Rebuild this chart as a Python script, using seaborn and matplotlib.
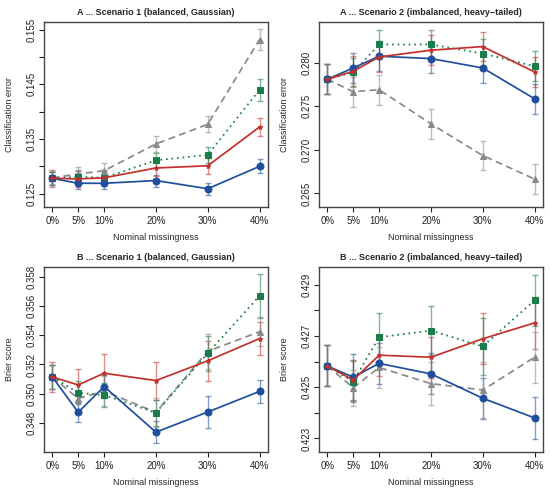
import numpy as np
import pandas as pd
import matplotlib
matplotlib.use("Agg")
import matplotlib.pyplot as plt
import seaborn as sns

sns.set_style("ticks")
plt.rcParams["font.family"] = ["Liberation Sans", "DejaVu Sans"]

# ---------------------------------------------------------
# data
# ---------------------------------------------------------
x = [0, 5, 10, 20, 30, 40]
x_labels = ["0%", "5%", "10%", "20%", "30%", "40%"]
methods = ["blue", "red", "green", "grey"]

# A: classification error, scenario 1
a1_blue = [0.1278, 0.1269, 0.1269, 0.1274, 0.1259, 0.1300]
a1_red = [0.1278, 0.1277, 0.1279, 0.1297, 0.1301, 0.1372]
a1_green = [0.1278, 0.1281, 0.1279, 0.1311, 0.1321, 0.1440]
a1_grey = [0.1279, 0.1286, 0.1292, 0.1341, 0.1377, 0.1532]
a1_blue_err = [0.0012, 0.0011, 0.0011, 0.0011, 0.0011, 0.0013]
a1_red_err = [0.0015, 0.0015, 0.0015, 0.0015, 0.0015, 0.0016]
a1_green_err = [0.0012, 0.0012, 0.0012, 0.0014, 0.0014, 0.0020]
a1_grey_err = [0.0012, 0.0013, 0.0014, 0.0014, 0.0015, 0.0020]

# A: classification error, scenario 2
a2_blue = [0.27812, 0.27942, 0.28077, 0.28050, 0.27942, 0.27588]
a2_red = [0.27812, 0.27904, 0.28069, 0.28146, 0.28188, 0.27896]
a2_green = [0.27812, 0.27892, 0.28212, 0.28212, 0.28108, 0.27962]
a2_grey = [0.27812, 0.27669, 0.27692, 0.27300, 0.26935, 0.26665]
a2_blue_err = [0.0017, 0.0017, 0.0017, 0.0017, 0.0017, 0.0017]
a2_red_err = [0.0017, 0.0017, 0.0017, 0.0017, 0.0017, 0.0017]
a2_green_err = [0.0017, 0.0017, 0.0017, 0.0017, 0.0017, 0.0017]
a2_grey_err = [0.0017, 0.0017, 0.0017, 0.0017, 0.0017, 0.0017]

# B: Brier score, scenario 1
b1_blue = [0.35115, 0.34873, 0.35049, 0.34737, 0.34875, 0.35016]
b1_red = [0.35115, 0.35060, 0.35140, 0.35090, 0.35225, 0.35377]
b1_green = [0.35115, 0.35007, 0.34990, 0.34870, 0.35277, 0.35669]
b1_grey = [0.35115, 0.34967, 0.35018, 0.34873, 0.35290, 0.35424]
b1_blue_err = [0.0008, 0.00066, 0.0008, 0.00074, 0.0011, 0.0008]
b1_red_err = [0.0010, 0.0011, 0.0013, 0.0013, 0.00135, 0.0011]
b1_green_err = [0.0008, 0.0008, 0.0008, 0.0009, 0.0012, 0.0015]
b1_grey_err = [0.0008, 0.0010, 0.0010, 0.0010, 0.0012, 0.0010]

# B: Brier score, scenario 2
b2_blue = [0.42583, 0.42539, 0.42593, 0.42552, 0.42457, 0.42380]
b2_red = [0.42583, 0.42528, 0.42625, 0.42617, 0.42689, 0.42751]
b2_green = [0.42583, 0.42522, 0.42695, 0.42721, 0.42659, 0.42839]
b2_grey = [0.42583, 0.42498, 0.42577, 0.42514, 0.42489, 0.42617]
b2_blue_err = [0.0008, 0.0009, 0.0008, 0.0008, 0.0008, 0.00083]
b2_red_err = [0.0008, 0.0008, 0.0008, 0.0008, 0.0010, 0.0010]
b2_green_err = [0.0008, 0.0008, 0.00095, 0.00095, 0.0011, 0.0010]
b2_grey_err = [0.0008, 0.0007, 0.0008, 0.00085, 0.0011, 0.0010]

titles = [
    "A ... Scenario 1 (balanced, Gaussian)",
    "A ... Scenario 2 (imbalanced, heavy\u2212tailed)",
    "B ... Scenario 1 (balanced, Gaussian)",
    "B ... Scenario 2 (imbalanced, heavy\u2212tailed)",
]
ylabels = ["Classification error", "Classification error", "Brier score", "Brier score"]

panels = [
    ([a1_blue, a1_red, a1_green, a1_grey], [a1_blue_err, a1_red_err, a1_green_err, a1_grey_err]),
    ([a2_blue, a2_red, a2_green, a2_grey], [a2_blue_err, a2_red_err, a2_green_err, a2_grey_err]),
    ([b1_blue, b1_red, b1_green, b1_grey], [b1_blue_err, b1_red_err, b1_green_err, b1_grey_err]),
    ([b2_blue, b2_red, b2_green, b2_grey], [b2_blue_err, b2_red_err, b2_green_err, b2_grey_err]),
]

ylims = [(0.1226, 0.1564), (0.26346, 0.2847), (0.34603, 0.35866), (0.42248, 0.42969)]
yticks = [
    np.arange(0.125, 0.1551, 0.005),
    np.arange(0.265, 0.2801, 0.005),
    np.arange(0.348, 0.3581, 0.002),
    np.arange(0.423, 0.4291, 0.001),
]
ytick_fmt = [
    lambda v, i: f"{v:.3f}" if i % 2 == 0 else "",
    lambda v, i: f"{v:.3f}",
    lambda v, i: f"{v:.3f}",
    lambda v, i: f"{v:.3f}" if i % 2 == 0 else "",
]

palette = {"blue": "#1f4f9c", "red": "#c4302b", "green": "#1a7d4a", "grey": "#8a8a8a"}
markers = {"blue": "o", "red": "*", "green": "s", "grey": "^"}
marker_sizes = {"blue": 5, "red": 3.5, "green": 4.5, "grey": 5}
dashes = {"blue": "", "red": "", "green": (1, 2.2), "grey": (4, 2.5)}

# ---------------------------------------------------------
# figure
# ---------------------------------------------------------
fig = plt.figure(figsize=(5.5, 4.9), dpi=100)
rects = [
    [0.080, 0.578, 0.407, 0.377],
    [0.580, 0.578, 0.407, 0.377],
    [0.080, 0.078, 0.407, 0.377],
    [0.580, 0.078, 0.407, 0.377],
]

for k, (vals, errs) in enumerate(panels):
    ax = fig.add_axes(rects[k])

    # error bars first, lighter
    for m, v, e in zip(methods, vals, errs):
        ax.errorbar(x, v, yerr=e, fmt="none", ecolor=palette[m], alpha=0.55,
                    elinewidth=1.0, capsize=2.5, capthick=1.0, zorder=2)

    df = pd.DataFrame({
        "x": np.tile(x, len(methods)),
        "value": np.concatenate(vals),
        "method": np.repeat(methods, len(x)),
    })
    for m in ["grey", "green", "blue", "red"]:
        sub = df[df["method"] == m]
        sns.lineplot(data=sub, x="x", y="value", ax=ax, color=palette[m],
                     marker=markers[m], markersize=marker_sizes[m],
                     markeredgecolor=palette[m], linewidth=1.25,
                     dashes=False, legend=False, zorder=3)
        if dashes[m]:
            ax.lines[-1].set_dashes(dashes[m])

    ax.set_xlim(-1.6, 41.6)
    ax.set_ylim(*ylims[k])
    ax.set_xticks(x)
    ax.set_xticklabels(x_labels, fontsize=7)
    ax.set_yticks(yticks[k])
    ax.set_yticklabels([ytick_fmt[k](v, i) for i, v in enumerate(yticks[k])],
                       fontsize=7, rotation=90, va="center")
    ax.tick_params(axis="both", length=3.5, width=0.8, colors="#222222", pad=2)
    ax.tick_params(axis="x", pad=3)
    for s in ax.spines.values():
        s.set_visible(True)
        s.set_linewidth(1.0)
        s.set_color("#444444")
    ax.set_title(titles[k], fontsize=6.5, fontweight="bold", pad=5)
    ax.set_xlabel("Nominal missingness", fontsize=6.5, labelpad=5)
    ax.set_ylabel(ylabels[k], fontsize=6.5, labelpad=9)
    ax.grid(False)

fig.savefig("out.png", dpi=100)
